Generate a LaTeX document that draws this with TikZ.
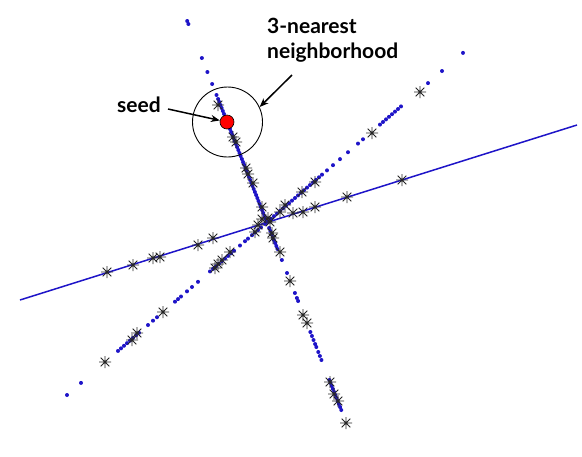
\documentclass[tikz,border=0pt]{standalone}
\usepackage{fontspec}
\setmainfont{Lato}
\usetikzlibrary{arrows.meta}
\definecolor{dotblue}{RGB}{30,20,200}
\newcommand\starmark[2]{\draw[astk] (#1,#2) +(-6,0) -- +(6,0) +(0,-6) -- +(0,6) +(-4.3,-4.3) -- +(4.3,4.3) +(-4.3,4.3) -- +(4.3,-4.3);}
\begin{document}
\begin{tikzpicture}[x=1pt,y=-1pt,
  dot/.style={fill=dotblue},
  astk/.style={draw=black!85,line width=0.8pt},
  lbl/.style={font=\bfseries\fontsize{21}{25}\selectfont, inner sep=0pt},
  arr/.style={-{Stealth[length=9pt,width=7pt]}, line width=1.5pt}]
\useasboundingbox (0,0) rectangle (582,456);
\fill[white] (0,0) rectangle (582,456);
% line 1 (solid)
\draw[dotblue, line width=1.5pt] (20,300) -- (577,125);
% line 2 dots (steep)
\foreach \t in {21,24,58,72,84,95,99,102,...,180,183,186,...,222,228,231,...,249,260,273,293,298,301,332,336,340,344,347,352,356,360,380,383,...,410}
  \fill[dot] ({188+0.396*(\t-23)},\t) circle (2);
% line 3 dots (diagonal)
\foreach \t in {67,81,118,121,...,141,148,153,157,175,178,181,187,192,198,210,213,...,234,240,245,248,252,255,...,262,265,268,...,322,327,333,340,348,358,363,380,383,...,401,428,442,463}
  \fill[dot] (\t,{395-0.864*(\t-67)}) circle (2);
% asterisks
\foreach \a/\b in {218/105,233/137,236/142,246/168,248/174,253/183,262/207,280/252,290/281,303/315,307/323,330/382,334/394,338/401,346/423,
  107/272,133/265,153/258,160/257,198/245,213/238,258/225,293/213,303/212,315/207,347/197,402/180,
  105/362,132/340,137/333,163/312,215/268,218/264,222/260,230/252,255/232,280/212,285/205,302/192,315/182,372/133,420/92,
  268/218,262/219,272/233,273/238,270/222}
  {\starmark{\a}{\b}}
% neighbourhood circle and seed
\node[circle, draw, line width=0.9pt, minimum size=70pt, inner sep=0pt] (nbh) at (227.5,122) {};
\node[circle, draw, fill=red, minimum size=14pt, inner sep=0pt, line width=0.6pt] (seedpt) at (227,122) {};
% labels
\node[lbl, anchor=base west] (seed) at (117,112) {seed};
\node[lbl, anchor=base west] (knn1) at (267,33) {3-nearest};
\node[lbl, anchor=base west] (knn2) at (267,58) {neighborhood};
% arrows
\coordinate (s0) at (168,109);
\coordinate (a1) at (292,75);
\draw[arr] (s0) -- (seedpt);
\draw[arr] (a1) -- (nbh.25);
\end{tikzpicture}
\end{document}
